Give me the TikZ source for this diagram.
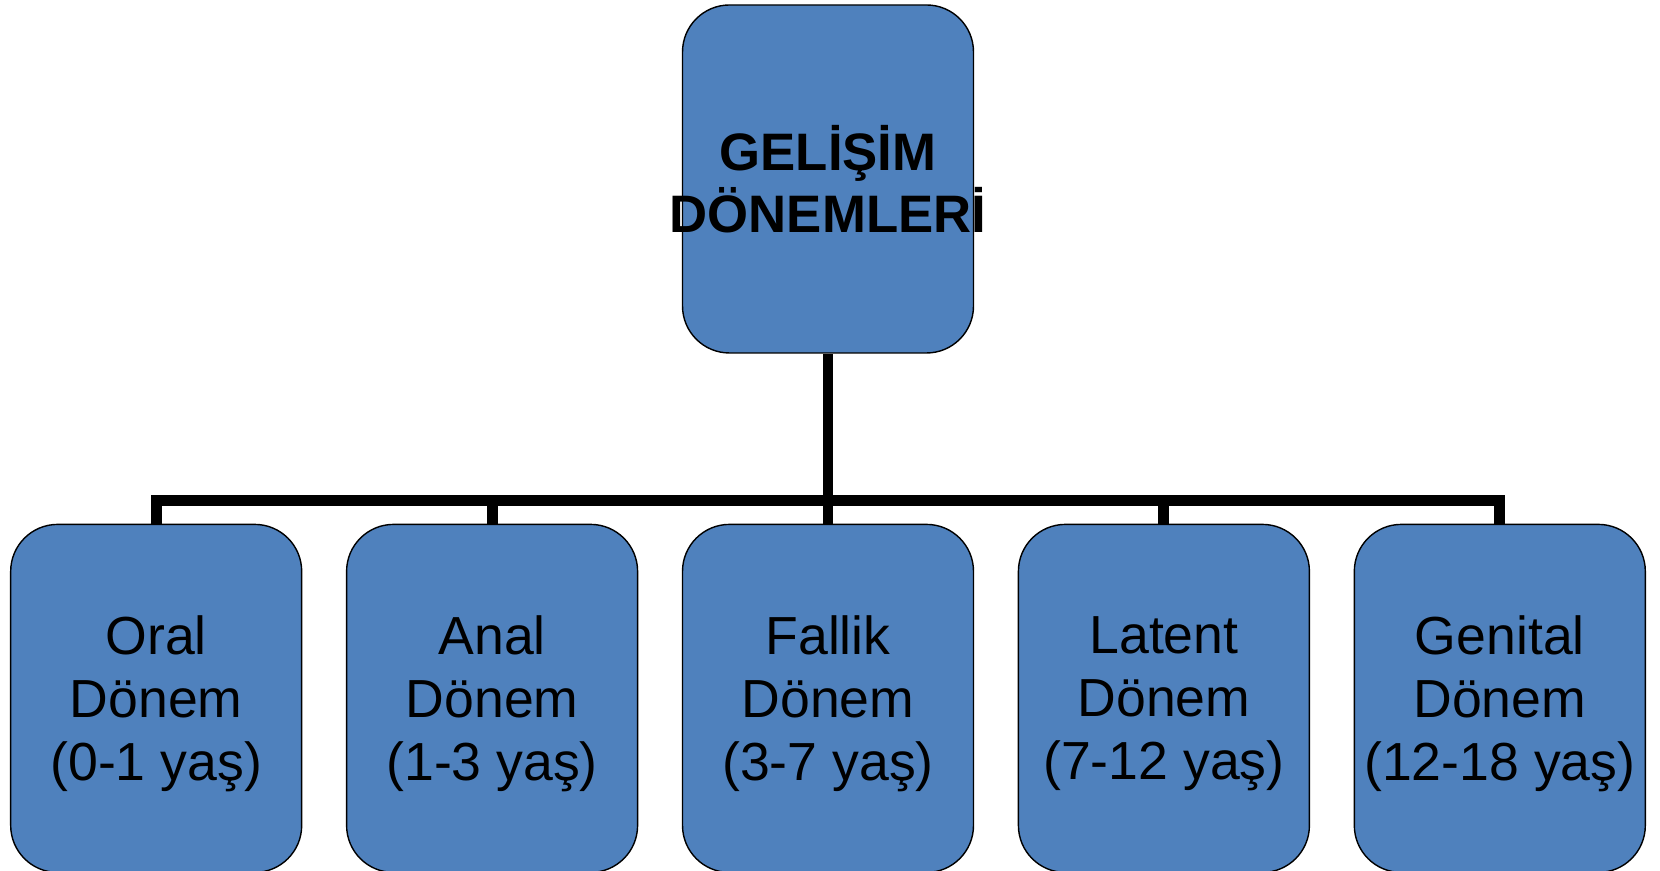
\documentclass[tikz,border=0pt]{standalone}
\usepackage{fontspec}
\setmainfont{Liberation Sans}
\usepackage{tikz}
\usetikzlibrary{positioning}
\definecolor{boxblue}{RGB}{79,129,189}

\begin{document}
\begin{tikzpicture}[node distance=3.4cm and 0.87cm,inner sep=0pt]
\tikzstyle{main}=[rectangle, rounded corners=9.4mm, minimum width=58.2mm, minimum height=69.6mm, draw=black, line width=0.8pt, fill=boxblue, align=center, font=\fontsize{30}{35.5}\selectfont]
\tikzstyle{period}=[main, text depth=0pt, font=\fontsize{30.5}{35.8}\selectfont]
\tikzstyle{link}=[line width=6.2pt]
\useasboundingbox (0,0) rectangle (33.2,17.42);
\node[main,font=\fontsize{30}{35.5}\selectfont\bfseries] (root) at (16.56,13.84) {\makebox[0pt]{GELİŞİM}\\\makebox[0pt]{DÖNEMLERİ}};
\node[period] (fallik) [below=of root] {Fallik\\Dönem\\(3-7 yaş)};
\node[period] (anal) [left=of fallik] {Anal\\Dönem\\(1-3 yaş)};
\node[period] (oral) [left=of anal] {Oral\\Dönem\\(0-1 yaş)};
\node[period] (latent) [right=of fallik] {Latent\\Dönem\\(7-12 yaş)};
\node[period] (genital) [right=of latent] {Genital\\Dönem\\(12-18 yaş)};
\draw[link] (oral.north) -- ++(0,0.46) -| (root.south);
\draw[link] (anal.north) -- ++(0,0.46) -| (root.south);
\draw[link] (fallik.north) -- (root.south);
\draw[link] (latent.north) -- ++(0,0.46) -| (root.south);
\draw[link] (genital.north) -- ++(0,0.46) -| (root.south);
\end{tikzpicture}
\end{document}
